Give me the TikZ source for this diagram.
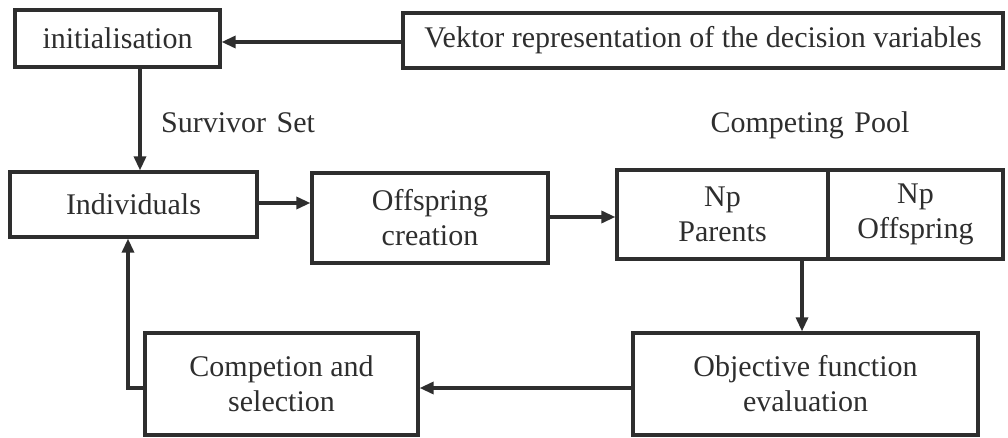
\documentclass[tikz,border=0pt]{standalone}
\usepackage{fontspec}
\setmainfont{Liberation Serif}
\usetikzlibrary{arrows.meta}
\definecolor{ink}{HTML}{2E2E2E}
\tikzset{
  box/.style={draw=ink, line width=3.2pt, rectangle, align=center, inner sep=0pt,
              text=ink, font=\fontsize{30}{35}\selectfont},
  lbl/.style={text=ink, font=\fontsize{30}{35}\selectfont},
  arr/.style={draw=ink, line width=3.2pt, -{Triangle[length=14pt,width=12pt]}}
}
\begin{document}
\begin{tikzpicture}[x=1pt,y=-1pt]
\useasboundingbox (0,0) rectangle (1008,438);
% boxes
\node[box, minimum width=205pt, minimum height=57pt] (init) at (117.5,38.5) {initialisation};
\node[box, minimum width=600pt, minimum height=55pt] (vek) at (703,40.5) {Vektor representation of the decision variables};
\node[box, minimum width=247pt, minimum height=65pt] (indiv) at (133.5,204.5) {Individuals};
\node[box, minimum width=236pt, minimum height=90pt] (offs) at (430,218) {Offspring\\creation};
\node[box, minimum width=211pt, minimum height=89pt] (poolL) at (722.5,214.5) {Np\\Parents};
\node[box, minimum width=175pt, minimum height=89pt] (poolR) at (915.5,214.5) {Np\\Offspring};
\node[box, minimum width=345pt, minimum height=102pt] (obj) at (805.5,384) {Objective function\\evaluation};
\node[box, minimum width=273pt, minimum height=102pt] (comp) at (281.5,384) {Competion and\\selection};
% labels
\node[lbl] (surv) at (238,123) {Survivor\hspace{0.35em}Set};
\node[lbl] (pool) at (810,125) {Competing\hspace{0.35em}Pool};
% connectors
\draw[arr] ([yshift=-1.5pt]vek.west) -- ([yshift=-1.5pt]vek.west -| init.east);
\draw[arr] ([xshift=22.5pt]init.south) -- ([xshift=22.5pt]init.south |- indiv.north);
\draw[arr] ([yshift=1.5pt]indiv.east) -- ([yshift=1.5pt]indiv.east -| offs.west);
\draw[arr] ([yshift=1pt]offs.east) -- ([yshift=1pt]offs.east -| poolL.west);
\draw[arr] ([xshift=-3.5pt]obj.north |- poolL.south) -- ([xshift=-3.5pt]obj.north);
\draw[arr] ([yshift=-4pt]obj.west) -- ([yshift=-4pt]obj.west -| comp.east);
\draw[arr] ([yshift=-4pt]comp.west) -| ([xshift=-5.5pt]indiv.south);
\end{tikzpicture}
\end{document}
